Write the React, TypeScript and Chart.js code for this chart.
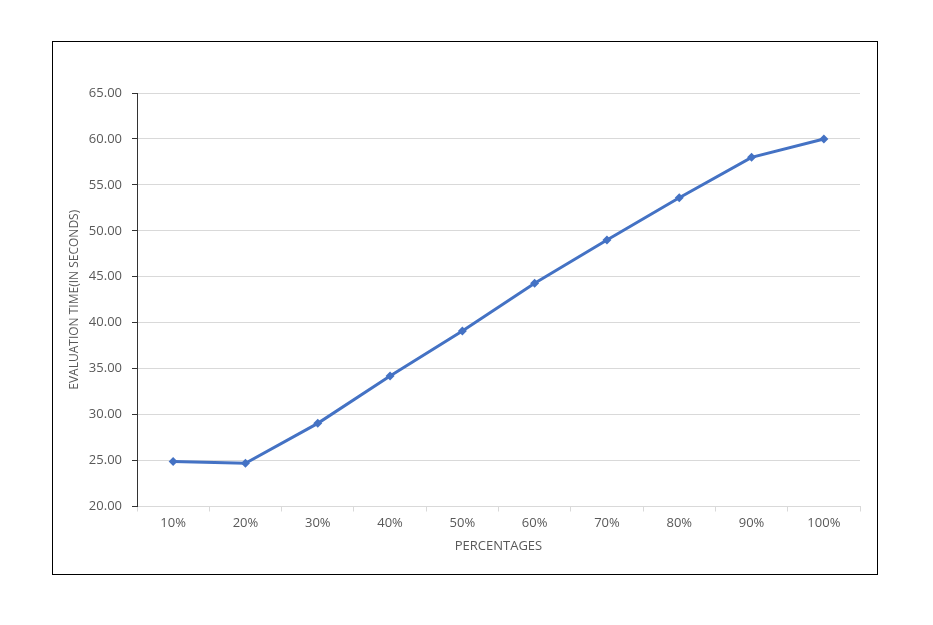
import React, { useEffect, useRef } from "react";
import { Chart, registerables } from "chart.js";

Chart.register(...registerables);

const categories = ["10%", "20%", "30%", "40%", "50%", "60%", "70%", "80%", "90%", "100%"];
const evaluationTime = [24.9, 24.7, 29.05, 34.2, 39.1, 44.3, 49.0, 53.6, 58.0, 60.0];
const yTitle = "EVALUATION TIME(IN SECONDS)";
const xTitle = "PERCENTAGES";

const FONT = "'Open Sans', 'DejaVu Sans', sans-serif";
const TEXT = "#595959";

export default function App() {
  const ref = useRef<HTMLCanvasElement | null>(null);
  useEffect(() => {
    if (!ref.current) return;
    const chart = new Chart(ref.current, {
      type: "line",
      data: {
        labels: categories,
        datasets: [
          {
            data: evaluationTime,
            borderColor: "#4472C4",
            backgroundColor: "#4472C4",
            borderWidth: 3,
            pointStyle: "rectRot",
            pointRadius: 4.5,
            pointBorderWidth: 0,
            tension: 0,
          },
        ],
      },
      options: {
        animation: false,
        responsive: false,
        maintainAspectRatio: false,
        layout: { padding: { top: 51, right: 17, bottom: 0, left: 0 } },
        plugins: { legend: { display: false }, tooltip: { enabled: false } },
        scales: {
          x: {
            offset: true,
            afterFit: (s: any) => { s.height = 67.5; },
            grid: { offset: true, drawOnChartArea: false, drawTicks: true, tickLength: 5, color: "#d9d9d9" },
            border: { color: "#d9d9d9", width: 1 },
            ticks: { color: TEXT, font: { family: FONT, size: 13 }, padding: 4, maxRotation: 0 },
            title: { display: true, text: xTitle, color: TEXT, font: { family: FONT, size: 13 }, padding: { top: 0, bottom: 20 } },
          },
          y: {
            min: 20,
            max: 65,
            afterFit: (s: any) => { s.width = 84; },
            grid: { color: "#d9d9d9", tickColor: "#333333", tickLength: 5, drawTicks: true },
            border: { color: "#333333", width: 1 },
            ticks: {
              stepSize: 5,
              color: TEXT,
              font: { family: FONT, size: 13 },
              padding: 10,
              callback: (v: any) => Number(v).toFixed(2),
            },
            title: { display: true, text: yTitle, color: TEXT, font: { family: FONT, size: 12 }, padding: { top: 14, bottom: 0 } },
          },
        },
      },
    });
    return () => chart.destroy();
  }, []);
  return (
    <div style={{ position: "absolute", left: 0, top: 0, width: 933, height: 625, background: "#fff" }}>
      <div
        style={{
          position: "absolute",
          left: 52,
          top: 41,
          width: 824,
          height: 532,
          border: "1px solid #000",
        }}
      >
        <canvas ref={ref} width={824} height={532} style={{ display: "block" }} />
      </div>
    </div>
  );
}
